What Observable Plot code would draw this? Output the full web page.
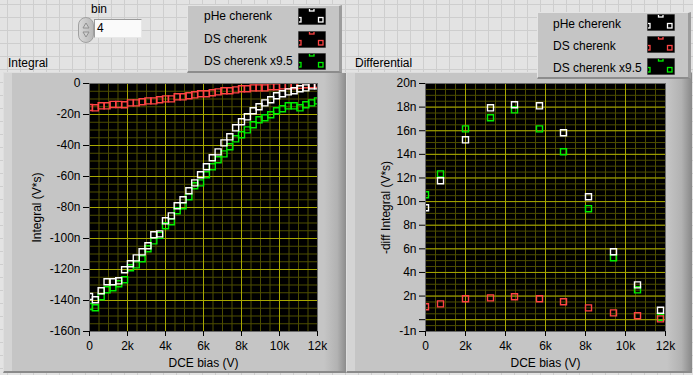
<!DOCTYPE html>
<html><head><meta charset="utf-8">
<script src="https://cdn.jsdelivr.net/npm/d3@7"></script>
<script src="https://cdn.jsdelivr.net/npm/@observablehq/plot@0.6"></script>
<style>
html,body{margin:0;padding:0;}
body{width:693px;height:375px;overflow:hidden;position:relative;font-family:"Liberation Sans",Arial,sans-serif;font-size:12px;color:#000;
background-color:#e3e3e3;
background-image:linear-gradient(to right,#cecece 1px,transparent 1px),linear-gradient(to bottom,#cecece 1px,transparent 1px);
background-size:13px 13px;background-position:7px 4px;}
.abs{position:absolute;}
.panel{position:absolute;box-sizing:border-box;background:#c5c5c5;border-top:1px solid #dedede;border-left:1px solid #dedede;border-bottom:2px solid #8a8a8a;border-right:1px solid #8a8a8a;}
.edge{position:absolute;top:0;bottom:0;right:0;background:linear-gradient(to right,#c5c5c5,#b2b2b2 60%,#8c8c8c);}
.lstrip{position:absolute;top:0;bottom:0;left:0;width:8px;background:#d4d4d4;}
.legend{position:absolute;box-sizing:border-box;background:#c5c5c5;border-top:1px solid #e4e4e4;border-left:1px solid #e4e4e4;border-bottom:2px solid #8c8c8c;border-right:3px solid #9c9c9c;}
.ltxt{position:absolute;white-space:nowrap;line-height:14px;}
.sw{position:absolute;width:28px;height:17px;}
.title{position:absolute;white-space:nowrap;line-height:14px;}
</style>
</head><body>
<div class="title" style="left:8px;top:56px;">Integral</div>
<div class="title" style="left:355px;top:56px;">Differential</div>
<div class="panel" style="left:3px;top:72px;width:344px;height:301px;"><div class="lstrip"></div><div class="edge" style="width:22px;"></div></div>
<div class="panel" style="left:346px;top:72px;width:346px;height:301px;"><div class="lstrip"></div><div class="edge" style="width:24px;"></div></div>

<div class="title" style="left:91px;top:2px;">bin</div>
<div class="abs" style="left:78px;top:17px;width:16px;height:26px;border-radius:8px;background:linear-gradient(to right,#d8d8d8,#b8b8b8);border:1px solid #a0a0a0;box-sizing:border-box;">
  <svg width="14" height="24" style="position:absolute;left:0;top:0"><path d="M4,10 L7,5 L10,10 Z" fill="#d0d0d0" stroke="#909090"/><path d="M4,14 L7,19 L10,14 Z" fill="#d0d0d0" stroke="#909090"/></svg>
</div>
<div class="abs" style="left:94px;top:19px;width:48px;height:19px;background:#fafafa;border-top:1px solid #9a9a9a;border-left:1px solid #9a9a9a;border-bottom:1px solid #e8e8e8;border-right:1px solid #e8e8e8;box-sizing:border-box;padding-left:2px;line-height:17px;font-size:12px;">4</div>

<div id="legL" class="legend" style="left:187px;top:5px;width:155px;height:68px;"></div>
<div id="legR" class="legend" style="left:537px;top:12px;width:154px;height:67px;"></div>

<div id="plotL" class="abs" style="left:0;top:0;"></div>
<div id="plotR" class="abs" style="left:345px;top:0;"></div>

<script>
// ---- data (Integral graph), DCE bias in V, integral in nV*s ----
const biasV = [0,308,615,923,1231,1538,1846,2154,2462,2769,3077,3385,3692,4000,4308,4615,4923,5231,5538,5846,6154,6462,6769,7077,7385,7692,8000,8308,8615,8923,9231,9538,9846,10154,10462,10769,11077,11385,11692,12000];
const pheIntegral = [-137.4,-139.5,-133.7,-127.9,-127.9,-127.3,-120.2,-116.3,-112.5,-108.6,-104.7,-97.6,-97.0,-88.6,-85.4,-78.9,-75.0,-69.2,-64.1,-58.9,-53.7,-47.9,-44.1,-38.3,-34.4,-28.6,-24.7,-21.5,-17.6,-15.0,-12.5,-10.5,-7.9,-6.6,-5.4,-4.7,-3.4,-2.8,-1.5,-1.5];
const dsIntegral = [-15.5,-15.7,-14.4,-14.4,-13.5,-13.5,-13.7,-12.5,-12.5,-11.8,-11.2,-11.2,-10.5,-9.9,-9.9,-8.6,-8.6,-7.9,-7.3,-6.6,-6.6,-6.0,-5.4,-4.7,-4.7,-4.1,-3.4,-3.4,-2.8,-2.8,-2.8,-2.1,-2.1,-1.5,-1.5,-1.5,-1.2,-0.8,-0.8,-0.6];
const dsx95Integral = [-143.9,-144.7,-137.6,-133.1,-131.8,-129.2,-126.6,-118.9,-117.0,-113.1,-106.6,-101.5,-98.0,-91.8,-89.2,-82.1,-78.9,-73.1,-66.0,-64.1,-58.9,-53.7,-49.2,-45.4,-40.8,-35.7,-33.1,-29.9,-26.6,-23.4,-22.1,-20.2,-17.6,-16.3,-14.4,-14.4,-15.7,-13.7,-12.5,-11.2];

// ---- data (Differential graph) ----
const diffBiasV = [0,750,2000,3250,4450,5700,6900,8150,9400,10600,11750];
const pheDiff = [9.48,11.76,15.23,17.94,18.2,18.11,15.83,10.41,5.75,2.95,0.8];
const dsDiff = [1.1,1.34,1.77,1.85,1.94,1.77,1.52,1.0,0.58,0.33,0.07];
const dsx95Diff = [10.58,12.35,16.16,17.1,17.77,16.16,14.22,9.4,5.24,2.53,0.2];

// ---- ticks / labels ----
const xTicks = [0,2000,4000,6000,8000,10000,12000];
const intYTicks = [0,-20,-40,-60,-80,-100,-120,-140,-160];
const diffYTicks = [20,18,16,14,12,10,8,6,4,2,0,-1];
const seriesNames = ["pHe cherenk","DS cherenk","DS cherenk x9.5"];
const seriesColors = ["#ffffff","#ff4444","#00f000"];

const majorC = "#a8a800", minorC = "#4e4e00";
const font = {fontFamily:"'Liberation Sans', Arial, sans-serif", fontSize:"12px", background:"transparent", color:"#000", overflow:"visible"};
const xFmt = d => d === 0 ? "0" : (d/1000) + "k";

function rows(xs, ys){ return xs.map((x,i)=>({x, y: ys[i]})); }
function dots(data, color){ return Plot.dot(data,{x:"x",y:"y",symbol:"square",r:3.4,stroke:color,fill:"none",strokeWidth:1.4,clip:true}); }

const minorXInt = d3.range(0, 12001, 500);
const minorYInt = d3.range(-160, 1, 5);
const majorYInt = d3.range(-160, 1, 20);
const minorYDiff = d3.range(-1, 20.01, 0.5);
const majorYDiff = d3.range(0, 20.01, 2);

const plotL = Plot.plot({
  width:345, height:375, marginLeft:89, marginRight:28, marginTop:83, marginBottom:44,
  style: font,
  x:{domain:[0,12000]}, y:{domain:[-160,0]},
  marks:[
    Plot.frame({fill:"black"}),
    Plot.gridX(minorXInt,{stroke:minorC,strokeOpacity:1}),
    Plot.gridY(minorYInt,{stroke:minorC,strokeOpacity:1}),
    Plot.gridX(xTicks,{stroke:majorC,strokeOpacity:1}),
    Plot.gridY(majorYInt,{stroke:majorC,strokeOpacity:1}),
    dots(rows(biasV, dsx95Integral), seriesColors[2]),
    dots(rows(biasV, dsIntegral), seriesColors[1]),
    dots(rows(biasV, pheIntegral), seriesColors[0]),
    Plot.frame({stroke:"#6a6a6a"}),
    Plot.axisX({ticks:xTicks, tickFormat:xFmt, tickSize:5, tickPadding:5, label:"DCE bias (V)", labelAnchor:"center", labelOffset:35, labelArrow:"none"}),
    Plot.axisY({ticks:intYTicks, tickFormat:d => d === 0 ? "0" : d + "n", tickSize:6, tickPadding:3, label:"Integral (V*s)", labelAnchor:"center", labelOffset:57, labelArrow:"none"})
  ]
});
document.getElementById("plotL").appendChild(plotL);

const plotR = Plot.plot({
  width:348, height:375, marginLeft:80, marginRight:28, marginTop:83, marginBottom:44,
  style: font,
  x:{domain:[0,12000]}, y:{domain:[-1,20]},
  marks:[
    Plot.frame({fill:"black"}),
    Plot.gridX(minorXInt,{stroke:minorC,strokeOpacity:1}),
    Plot.gridY(minorYDiff,{stroke:minorC,strokeOpacity:1}),
    Plot.gridX(xTicks,{stroke:majorC,strokeOpacity:1}),
    Plot.gridY(majorYDiff,{stroke:majorC,strokeOpacity:1}),
    dots(rows(diffBiasV, dsx95Diff), seriesColors[2]),
    dots(rows(diffBiasV, dsDiff), seriesColors[1]),
    dots(rows(diffBiasV, pheDiff), seriesColors[0]),
    Plot.frame({stroke:"#6a6a6a"}),
    Plot.axisX({ticks:xTicks, tickFormat:xFmt, tickSize:5, tickPadding:5, label:"DCE bias (V)", labelAnchor:"center", labelOffset:35, labelArrow:"none"}),
    Plot.axisY({ticks:diffYTicks, tickFormat:d => d === 0 ? "" : d + "n", tickSize:6, tickPadding:3, label:"-diff Integral (V*s)", labelAnchor:"center", labelOffset:44, labelArrow:"none"})
  ]
});
document.getElementById("plotR").appendChild(plotR);

// legends
function swatch(color){
  return `<svg width="28" height="17" style="display:block"><defs><clipPath id="c${color.slice(1)}"><rect x="1" y="1" width="26" height="15"/></clipPath></defs>
  <rect x="0" y="0" width="28" height="17" fill="#000" stroke="#8a8a8a"/>
  <g clip-path="url(#c${color.slice(1)})" fill="none" stroke="${color}" stroke-width="1.3">
  <rect x="11.5" y="-1.5" width="4.5" height="4.5"/><rect x="-1.5" y="9.5" width="4.5" height="4.5"/><rect x="20.5" y="9.5" width="4.5" height="4.5"/></g></svg>`;
}
function legend(id, textX, rowTops, swX, swTops){
  const el = document.getElementById(id);
  seriesNames.forEach((n,i)=>{
    const t = document.createElement("div"); t.className="ltxt"; t.style.left=textX+"px"; t.style.top=rowTops[i]+"px"; t.textContent=n; el.appendChild(t);
    const s = document.createElement("div"); s.className="sw"; s.style.left=swX+"px"; s.style.top=swTops[i]+"px"; s.innerHTML=swatch(seriesColors[i]); el.appendChild(s);
  });
}
legend("legL", 16, [3,26,48], 110, [2,25,47]);
legend("legR", 15, [4,26,48], 109, [1,23,45]);
</script>
</body></html>
